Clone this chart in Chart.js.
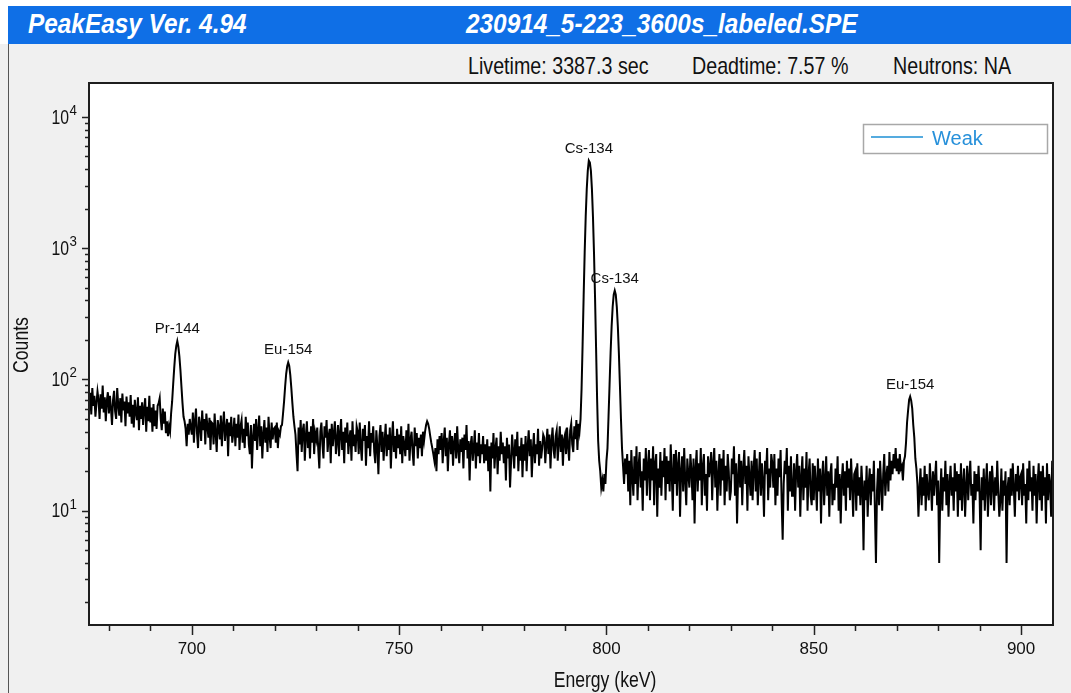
<!DOCTYPE html>
<html>
<head>
<meta charset="utf-8">
<title>PeakEasy spectrum</title>
<script src="https://cdn.jsdelivr.net/npm/chart.js@4.4.0/dist/chart.umd.min.js"></script>
<style>
  html, body { margin: 0; padding: 0; }
  body { width: 1071px; height: 693px; background: #f0f0f0; position: relative; overflow: hidden;
         font-family: 'Liberation Sans', Arial, sans-serif; }
  #topstrip { position: absolute; left: 0; top: 0; width: 1071px; height: 6px; background: #fff; }
  #leftstrip { position: absolute; left: 0; top: 0; width: 8px; height: 44px; background: #fff; }
  #bar { position: absolute; left: 8px; top: 6px; width: 1063px; height: 38px; background: #0f6fe6; }
  #frame { position: absolute; left: 8px; top: 44px; width: 1px; height: 649px; background: #555; }
  .title { position: absolute; top: 10px; color: #fff; font-weight: bold; font-style: italic;
           font-size: 28px; line-height: 28px; white-space: nowrap;
           transform: scaleX(0.87); transform-origin: 0 0; }
  .info { position: absolute; top: 54px; font-size: 24px; line-height: 24px; color: #111; white-space: nowrap;
          transform: scaleX(0.82); transform-origin: 0 0; }
  canvas { position: absolute; left: 0; top: 0; }
</style>
</head>
<body>
<div id="topstrip"></div>
<div id="leftstrip"></div>
<div id="bar"></div>
<div id="frame"></div>
<div class="title" style="left:28px">PeakEasy Ver. 4.94</div>
<div class="title" style="left:466px">230914_5-223_3600s_labeled.SPE</div>
<div class="info" style="left:468px">Livetime: 3387.3 sec</div>
<div class="info" style="left:692px">Deadtime: 7.57 %</div>
<div class="info" style="left:893px">Neutrons: NA</div>
<canvas id="spectrum" width="1071" height="693"></canvas>
<script>
// channel calibration: first channel energy and keV per channel
const START_KEV = 675.0;
const STEP_KEV = 0.25;

// counts per channel; one row = 5 keV (675.0 ... 908.0 keV)
const counts = [
  72, 58, 79, 54, 86, 63, 75, 52, 66, 81, 70, 50, 77, 60, 90, 56, 73, 48, 69, 80,
  55, 75, 60, 45, 70, 82, 57, 50, 86, 64, 53, 72, 47, 78, 58, 68, 44, 74, 55, 67,
  52, 76, 46, 64, 43, 70, 56, 49, 73, 41, 63, 50, 67, 45, 60, 72, 40, 62, 48, 75,
  47, 61, 40, 65, 44, 58, 42, 63, 66, 72, 50, 41, 60, 46, 57, 39, 48, 37, 44, 40,
  55, 68, 92, 122, 156, 180, 196, 178, 150, 118, 88, 66, 52, 48, 42, 31, 46, 38, 50, 43,
  38, 56, 33, 48, 60, 39, 30, 52, 45, 34, 58, 41, 50, 32, 55, 44, 36, 51, 29, 47,
  46, 32, 55, 39, 28, 49, 43, 35, 53, 31, 45, 57, 34, 42, 50, 26, 47, 37, 52, 33,
  39, 51, 31, 46, 36, 54, 29, 44, 49, 33, 42, 30, 52, 37, 47, 32, 27, 45, 21, 36,
  46, 34, 50, 29, 41, 53, 31, 44, 25, 38, 49, 33, 43, 28, 52, 37, 30, 47, 35, 42,
  43, 33, 47, 30, 40, 38, 44, 45, 55, 68, 88, 110, 126, 135, 127, 108, 86, 66, 52, 44,
  38, 27, 20, 43, 32, 49, 28, 41, 46, 24, 37, 48, 30, 40, 25, 44, 33, 50, 27, 39,
  35, 43, 29, 21, 40, 47, 32, 25, 44, 36, 49, 28, 37, 42, 23, 46, 31, 39, 48, 27,
  34, 45, 26, 39, 50, 29, 40, 23, 43, 33, 47, 27, 36, 41, 24, 48, 31, 38, 28, 44,
  40, 27, 47, 31, 24, 42, 34, 45, 22, 37, 30, 48, 26, 39, 33, 44, 28, 23, 41, 31,
  19, 37, 45, 28, 40, 24, 34, 46, 26, 38, 29, 43, 21, 35, 48, 28, 37, 25, 42, 30,
  38, 27, 44, 23, 37, 32, 26, 41, 29, 46, 24, 35, 40, 28, 22, 43, 31, 39, 25, 36,
  30, 38, 26, 40, 34, 40, 45, 48, 46, 42, 37, 33, 30, 27, 24, 30, 20, 35, 27, 37,
  29, 39, 23, 34, 43, 26, 36, 20, 32, 41, 27, 37, 22, 33, 39, 25, 44, 29, 23, 35,
  28, 36, 21, 38, 29, 45, 25, 34, 17, 32, 37, 24, 30, 41, 21, 33, 26, 39, 23, 32,
  27, 37, 23, 32, 24, 35, 20, 31, 14, 33, 25, 39, 21, 30, 36, 19, 31, 24, 40, 27,
  33, 23, 31, 17, 36, 25, 32, 15, 24, 38, 28, 21, 35, 26, 40, 20, 31, 24, 36, 18,
  32, 24, 37, 20, 31, 41, 26, 35, 18, 29, 39, 23, 32, 27, 42, 22, 34, 25, 30, 38,
  36, 23, 32, 42, 27, 38, 21, 34, 43, 29, 25, 37, 41, 24, 33, 44, 28, 38, 22, 35,
  38, 27, 43, 31, 24, 41, 46, 32, 28, 44, 35, 49, 29, 46, 40, 50, 85, 185, 430, 930,
  1750, 2830, 3900, 4650, 4500, 3880, 2810, 1730, 915, 420, 172, 70, 34, 24, 20, 15, 17, 14, 19, 16,
  24, 30, 52, 91, 160, 254, 358, 443, 476, 443, 356, 252, 158, 90, 50, 30, 22, 16, 25, 19,
  27, 14, 24, 11, 29, 18, 13, 26, 16, 31, 12, 22, 28, 15, 20, 10, 25, 17, 30, 13,
  22, 29, 12, 25, 17, 31, 11, 23, 27, 9, 21, 15, 28, 13, 24, 18, 30, 12, 26, 16,
  24, 14, 32, 19, 10, 27, 16, 29, 13, 22, 28, 9, 20, 26, 14, 30, 17, 11, 25, 19,
  15, 27, 20, 12, 25, 8, 21, 29, 14, 23, 17, 30, 11, 22, 27, 13, 19, 10, 26, 18,
  21, 28, 12, 23, 30, 15, 24, 10, 19, 27, 13, 25, 17, 29, 11, 22, 14, 27, 20, 12,
  14, 25, 19, 31, 13, 23, 8, 18, 27, 15, 24, 11, 21, 29, 16, 22, 10, 26, 18, 13,
  24, 12, 21, 29, 14, 25, 11, 18, 28, 13, 23, 17, 9, 24, 19, 30, 12, 21, 15, 27,
  23, 15, 27, 11, 21, 13, 25, 18, 29, 12, 6, 16, 24, 19, 30, 10, 22, 14, 26, 13,
  13, 23, 10, 20, 27, 15, 22, 9, 18, 26, 12, 21, 15, 28, 10, 19, 25, 13, 11, 23,
  12, 22, 16, 10, 25, 14, 21, 8, 18, 24, 11, 17, 26, 13, 20, 9, 19, 23, 11, 16,
  12, 21, 15, 26, 10, 19, 8, 17, 23, 13, 20, 10, 24, 15, 21, 12, 25, 16, 9, 19,
  20, 10, 23, 13, 18, 11, 22, 15, 5, 17, 12, 22, 9, 16, 21, 11, 19, 14, 24, 10,
  4, 14, 21, 11, 24, 16, 10, 19, 27, 13, 18, 22, 14, 28, 17, 24, 19, 27, 21, 30,
  20, 25, 19, 27, 21, 22, 17, 24, 26, 33, 47, 58, 70, 74, 69, 60, 45, 36, 25, 21,
  16, 9, 15, 21, 11, 18, 13, 22, 10, 19, 14, 12, 23, 16, 10, 20, 13, 18, 24, 11,
  17, 4, 13, 21, 10, 18, 14, 24, 11, 19, 9, 16, 22, 13, 18, 10, 23, 14, 20, 9,
  19, 12, 23, 10, 16, 21, 9, 15, 22, 12, 18, 24, 13, 16, 8, 20, 12, 19, 14, 22,
  13, 5, 18, 12, 21, 10, 16, 23, 9, 15, 20, 11, 22, 16, 10, 18, 13, 24, 14, 9,
  12, 21, 10, 17, 13, 20, 4, 15, 18, 11, 21, 13, 23, 15, 9, 19, 14, 22, 12, 18,
  19, 11, 23, 13, 16, 8, 21, 12, 24, 14, 18, 10, 22, 13, 19, 8, 16, 23, 12, 20,
  10, 22, 13, 18, 8, 23, 12, 19, 16, 9, 24, 14, 11
];

const X_MIN = 675.2, X_MAX = 907.7;
const Y_MIN = 1.346, Y_MAX = 18150;

const xTickValues = [680, 690, 700, 710, 720, 730, 740, 750, 760, 770, 780, 790,
                     800, 810, 820, 830, 840, 850, 860, 870, 880, 890, 900];
const xLabelValues = [700, 750, 800, 850, 900];
const yMajorTicks = [10, 100, 1000, 10000];
const yExponents = ['1', '2', '3', '4'];
const yMinorMantissas = [2, 3, 4, 5, 6, 7, 8, 9];

const peakNames = ['Pr-144', 'Eu-154', 'Cs-134', 'Cs-134', 'Eu-154'];
const peakEnergies = [696.5, 723.25, 795.75, 802.0, 873.25];

const seriesName = 'Weak';

const SANS = "'Liberation Sans', Arial, sans-serif";

let points = counts.map((c, i) => ({ x: START_KEV + i * STEP_KEV, y: c }));

let yTickValues = [];
[1, 10, 100, 1000, 10000].forEach((decade) => {
    yMinorMantissas.forEach((m) => yTickValues.push(m * decade));
});
yTickValues = yTickValues.concat(yMajorTicks).filter((v) => v >= Y_MIN && v <= Y_MAX).sort((a, b) => a - b);

// text squeezed horizontally, the app draws its axis text in a narrow face
function narrowText(ctx, text, x, y, sx) {
    ctx.save();
    ctx.translate(x, y);
    ctx.scale(sx, 1);
    ctx.fillText(text, 0, 0);
    ctx.restore();
}

const plotDecor = {
    id: 'plotDecor',
    beforeDraw(chart) {
        const {ctx, chartArea: a} = chart;
        ctx.save();
        ctx.fillStyle = '#ffffff';
        ctx.fillRect(a.left, a.top, a.right - a.left, a.bottom - a.top);
        ctx.restore();
    },
    afterDraw(chart) {
        const {ctx, chartArea: a} = chart;
        const xs = chart.scales.x, ys = chart.scales.y;
        ctx.save();

        // frame
        ctx.strokeStyle = '#1e1e1e';
        ctx.lineWidth = 2;
        ctx.strokeRect(a.left, a.top, a.right - a.left, a.bottom - a.top);

        // x ticks (outside, below)
        ctx.lineWidth = 1.5;
        ctx.strokeStyle = '#222';
        xTickValues.forEach((v) => {
            const px = Math.round(xs.getPixelForValue(v)) + 0.5;
            const len = xLabelValues.includes(v) ? 10 : 6;
            ctx.beginPath();
            ctx.moveTo(px, a.bottom);
            ctx.lineTo(px, a.bottom + len);
            ctx.stroke();
        });

        // y ticks (outside, left)
        yTickValues.forEach((v) => {
            const py = Math.round(ys.getPixelForValue(v)) + 0.5;
            const len = yMajorTicks.includes(v) ? 7 : 4;
            ctx.beginPath();
            ctx.moveTo(a.left, py);
            ctx.lineTo(a.left - len, py);
            ctx.stroke();
        });

        // y labels as powers of ten
        ctx.fillStyle = '#111';
        yMajorTicks.forEach((v, i) => {
            const py = ys.getPixelForValue(v);
            ctx.font = '21px ' + SANS;
            ctx.textAlign = 'right';
            ctx.textBaseline = 'middle';
            narrowText(ctx, '10', 69, py + 1, 0.75);
            ctx.font = '14px ' + SANS;
            ctx.textAlign = 'left';
            ctx.textBaseline = 'alphabetic';
            narrowText(ctx, yExponents[i], 69.5, py - 2, 0.95);
        });

        // axis titles
        ctx.font = '22px ' + SANS;
        ctx.textAlign = 'center';
        ctx.textBaseline = 'middle';
        narrowText(ctx, 'Energy (keV)', 605, 681, 0.8);
        ctx.save();
        ctx.translate(22, 345);
        ctx.rotate(-Math.PI / 2);
        narrowText(ctx, 'Counts', 0, 0, 0.8);
        ctx.restore();

        // peak labels
        ctx.font = '15px ' + SANS;
        ctx.fillStyle = '#111';
        peakNames.forEach((name, i) => {
            const idx = Math.round((peakEnergies[i] - START_KEV) / STEP_KEV);
            const px = xs.getPixelForValue(peakEnergies[i]);
            const py = ys.getPixelForValue(counts[idx]);
            ctx.fillText(name, px, py - 12);
        });

        // legend box
        ctx.fillStyle = '#ffffff';
        ctx.fillRect(863.5, 124.5, 184, 29);
        ctx.strokeStyle = '#a8a8a8';
        ctx.lineWidth = 1.5;
        ctx.strokeRect(863.5, 124.5, 184, 29);
        ctx.strokeStyle = '#1c8fd4';
        ctx.lineWidth = 1.5;
        ctx.beginPath();
        ctx.moveTo(871, 137);
        ctx.lineTo(923, 137);
        ctx.stroke();
        ctx.fillStyle = '#2790da';
        ctx.font = '20px ' + SANS;
        ctx.textAlign = 'left';
        ctx.textBaseline = 'middle';
        ctx.fillText(seriesName, 932, 139);

        ctx.restore();
    }
};

const ctx = document.getElementById('spectrum').getContext('2d');
const chart = new Chart(ctx, {
    type: 'line',
    data: {
        datasets: [{
            label: seriesName,
            data: points,
            borderColor: '#000000',
            borderWidth: 2,
            pointRadius: 0,
            fill: false,
            tension: 0
        }]
    },
    options: {
        responsive: false,
        animation: false,
        events: [],
        layout: { padding: { left: 0, top: 83, right: 18, bottom: 0 } },
        scales: {
            x: {
                type: 'linear',
                min: X_MIN,
                max: X_MAX,
                afterBuildTicks: (s) => { s.ticks = xTickValues.map((v) => ({ value: v })); },
                afterFit: (s) => { s.height = 68; },
                grid: { display: false, drawTicks: false },
                border: { display: false },
                ticks: {
                    autoSkip: false,
                    maxRotation: 0,
                    padding: 14,
                    color: '#111',
                    font: { family: SANS, size: 17 },
                    callback: (v) => xLabelValues.includes(v) ? String(v) : ''
                }
            },
            y: {
                type: 'logarithmic',
                min: Y_MIN,
                max: Y_MAX,
                afterBuildTicks: (s) => { s.ticks = yTickValues.map((v) => ({ value: v })); },
                afterFit: (s) => { s.width = 89; },
                grid: { display: false, drawTicks: false },
                border: { display: false },
                ticks: { display: false }
            }
        },
        plugins: {
            legend: { display: false },
            tooltip: { enabled: false }
        }
    },
    plugins: [plotDecor]
});
</script>
</body>
</html>
